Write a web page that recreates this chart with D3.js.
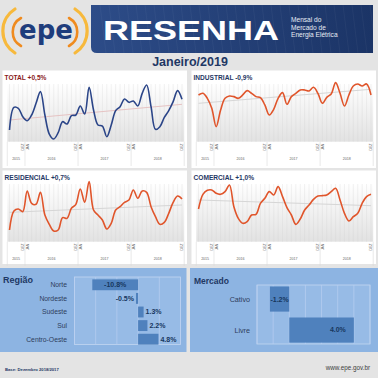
<!DOCTYPE html>
<html>
<head>
<meta charset="utf-8">
<script src="https://cdn.jsdelivr.net/npm/d3@7"></script>
<style>
  body { margin: 0; background: #e4e4e4; }
  svg { display: block; font-family: "Liberation Sans", Arial, sans-serif; }
</style>
</head>
<body>
<svg id="chart" width="378" height="378"></svg>
<script>
// monthly series, set/2015 .. dez/2018 (index values)
const months = d3.timeMonths(new Date(2015, 8, 1), new Date(2019, 0, 1));
const total = [40, 108, 105, 80, 68, 85, 120, 155, 85, 28, 13, 32, 65, 58, 83, 85, 112, 88, 168, 100,
  55, 52, 20, 55, 98, 110, 133, 123, 127, 112, 150, 175, 110, 42, 50, 78, 98, 125, 158, 132];
const industrial = [145, 150, 135, 105, 50, 100, 135, 142, 140, 135, 145, 158, 150, 140, 137, 115, 85, 102, 135, 152,
  117, 140, 150, 160, 160, 157, 168, 150, 120, 138, 148, 182, 150, 112, 145, 172, 178, 172, 178, 145];
const residencial = [40, 97, 103, 95, 157, 120, 117, 153, 85, 57, 37, 40, 77, 75, 105, 117, 163, 123, 185, 100,
  85, 70, 43, 60, 100, 110, 123, 130, 160, 135, 157, 153, 110, 80, 57, 63, 90, 123, 142, 133];
const comercial = [103, 147, 159, 160, 150, 147, 155, 175, 110, 75, 60, 65, 85, 87, 120, 135, 155, 145, 170, 140,
  107, 85, 57, 73, 100, 115, 132, 142, 143, 145, 155, 165, 130, 90, 67, 80, 90, 120, 140, 147];
const trendTotal = [70, 117];
const trendIndustrial = [120, 162];
const trendResidencial = [93, 115];
const trendComercial = [130, 113];
const panelTitles = ["TOTAL +0,5%", "INDUSTRIAL -0,9%", "RESIDENCIAL +0,7%", "COMERCIAL +1,0%"];
const yearLabels = ["2015", "2016", "2017", "2018"];

const regioes = ["Norte", "Nordeste", "Sudeste", "Sul", "Centro-Oeste"];
const regiaoVar = [-10.8, -0.5, 1.3, 2.2, 4.8];
const mercados = ["Cativo", "Livre"];
const mercadoVar = [-1.2, 4.0];

const svg = d3.select("#chart");
const defs = svg.append("defs");
const fmt = d3.formatLocale({ decimal: ".", thousands: ",", grouping: [3], currency: ["", ""], minus: "-" }).format(".1f");

// ---------- header ----------
const bannerGrad = defs.append("linearGradient").attr("id", "banner").attr("x1", 0).attr("x2", 1);
bannerGrad.append("stop").attr("offset", 0).attr("stop-color", "#2d4c88");
bannerGrad.append("stop").attr("offset", 1).attr("stop-color", "#1b3466");

svg.append("path")
  .attr("d", "M91,5 H373 V53 H97 Q91,53 91,47 Z")
  .attr("fill", "url(#banner)");
// faint grid texture on the banner
for (let gx = 100; gx < 372; gx += 9) {
  svg.append("line").attr("x1", gx).attr("x2", gx + 6).attr("y1", 5).attr("y2", 53)
    .attr("stroke", "#ffffff").attr("stroke-opacity", 0.04);
}
svg.append("text").attr("x", 103).attr("y", 40)
  .attr("fill", "#fff").attr("font-weight", "bold").attr("font-size", 28)
  .attr("textLength", 176).attr("lengthAdjust", "spacingAndGlyphs")
  .text("RESENHA");
["Mensal do", "Mercado de", "Energia Elétrica"].forEach((t, i) => {
  svg.append("text").attr("x", 291).attr("y", 22 + i * 7.6)
    .attr("fill", "#e8ecf4").attr("font-size", 6.6).text(t);
});

// epe logo
const logo = svg.append("g").attr("fill", "none").attr("stroke-linecap", "round");
logo.append("path").attr("d", "M15,9 A26,26 0 0 0 15,53").attr("stroke", "#f7b93c").attr("stroke-width", 3.2);
logo.append("path").attr("d", "M21,18 A16,16 0 0 0 21,46").attr("stroke", "#ef8b1f").attr("stroke-width", 2.6);
logo.append("path").attr("d", "M75,9 A26,26 0 0 1 75,53").attr("stroke", "#f7b93c").attr("stroke-width", 3.2);
logo.append("path").attr("d", "M69,18 A16,16 0 0 1 69,46").attr("stroke", "#ef8b1f").attr("stroke-width", 2.6);
svg.append("text").attr("x", 46).attr("y", 39).attr("text-anchor", "middle")
  .attr("font-family", "DejaVu Sans, sans-serif").attr("font-weight", "bold")
  .attr("font-size", 26).attr("fill", "#1f3d7c").text("epe");

svg.append("text").attr("x", 190).attr("y", 66).attr("text-anchor", "middle")
  .attr("font-weight", "bold").attr("font-size", 12.5).attr("fill", "#1f3864")
  .text("Janeiro/2019");

// ---------- line panels ----------
const plotGrad = defs.append("linearGradient").attr("id", "plotbg").attr("x1", 0).attr("x2", 0).attr("y1", 0).attr("y2", 1);
plotGrad.append("stop").attr("offset", 0).attr("stop-color", "#ffffff");
plotGrad.append("stop").attr("offset", 1).attr("stop-color", "#e2e2e2");

const panels = [
  { title: panelTitles[0], values: total, trend: trendTotal, col: 0, row: 0, color: "#2b4588", titleColor: "#8b1c1c", trendColor: "#e6c3c3" },
  { title: panelTitles[1], values: industrial, trend: trendIndustrial, col: 1, row: 0, color: "#e0552b", titleColor: "#1f3864", trendColor: "#d6d6d6" },
  { title: panelTitles[2], values: residencial, trend: trendResidencial, col: 0, row: 1, color: "#e0552b", titleColor: "#1f3864", trendColor: "#d6d6d6" },
  { title: panelTitles[3], values: comercial, trend: trendComercial, col: 1, row: 1, color: "#e0552b", titleColor: "#1f3864", trendColor: "#d6d6d6" }
];

panels.forEach(p => {
  const ox = p.col * 189, oy = p.row * 100;
  const g = svg.append("g");
  g.append("rect").attr("x", ox + 2.5).attr("y", oy + 70.5)
    .attr("width", 184.5).attr("height", p.row ? 93.5 : 97.5).attr("fill", "#fff");
  g.append("text").attr("x", ox + 4.5).attr("y", oy + 79.5)
    .attr("font-weight", "bold").attr("font-size", 6.6).attr("fill", p.titleColor).text(p.title);

  const x = d3.scaleLinear().domain([0, months.length - 1]).range([ox + 9.5, ox + 182]);
  const y = d3.scaleLinear().domain([5, 180]).range([oy + 141.7, oy + 83.3]);
  const top = oy + 84, bottom = oy + 141.7;

  g.append("rect").attr("x", x(-0.5)).attr("y", top)
    .attr("width", x(months.length - 0.5) - x(-0.5)).attr("height", bottom - top)
    .attr("fill", "url(#plotbg)");
  g.selectAll("line.stripe").data(months).join("line").attr("class", "stripe")
    .attr("x1", (d, i) => x(i)).attr("x2", (d, i) => x(i))
    .attr("y1", top).attr("y2", bottom)
    .attr("stroke", "#cfcfcf").attr("stroke-opacity", 0.55).attr("stroke-width", 0.5);

  // trend
  g.append("line")
    .attr("x1", x(0)).attr("x2", x(months.length - 1))
    .attr("y1", y(p.trend[0])).attr("y2", y(p.trend[1]))
    .attr("stroke", p.trendColor).attr("stroke-width", 1);

  g.append("path").datum(p.values)
    .attr("fill", "none").attr("stroke", p.color).attr("stroke-width", 1.6)
    .attr("d", d3.line().x((d, i) => x(i)).y(d => y(d)).curve(d3.curveCatmullRom.alpha(0.5)));

  // axis: DEZ/JAN at year turns, year names below
  const turns = months.map((m, i) => i).filter(i => months[i].getMonth() === 0);
  const seps = [-0.5, ...turns.map(i => i - 0.5), months.length - 0.5];
  g.selectAll("line.sep").data(seps).join("line").attr("class", "sep")
    .attr("x1", d => x(d)).attr("x2", d => x(d))
    .attr("y1", bottom).attr("y2", oy + 166)
    .attr("stroke", "#dadada").attr("stroke-width", 0.6);
  const ticks = [];
  turns.forEach(i => { ticks.push([i - 1, "DEZ"]); ticks.push([i, "JAN"]); });
  ticks.push([months.length - 1, "DEZ"]);
  g.selectAll("text.tick").data(ticks).join("text").attr("class", "tick")
    .attr("transform", d => `translate(${x(d[0]) + 1.4},${bottom + 2}) rotate(-90)`)
    .attr("text-anchor", "end").attr("font-size", 3.4).attr("fill", "#666").text(d => d[1]);
  g.selectAll("text.year").data(yearLabels).join("text").attr("class", "year")
    .attr("x", (d, k) => (x(seps[k]) + x(seps[k + 1])) / 2).attr("y", oy + 160)
    .attr("text-anchor", "middle").attr("font-size", 3.6).attr("fill", "#666").text(d => d);
});

// ---------- bar panels ----------
function barPanel(o) {
  const g = svg.append("g");
  g.append("rect").attr("x", o.box[0]).attr("y", 268).attr("width", o.box[1] - o.box[0]).attr("height", 84)
    .attr("fill", "#8db4e2");
  g.append("text").attr("x", o.box[0] + o.titleDx).attr("y", o.titleY)
    .attr("font-weight", "bold").attr("font-size", o.titleSize).attr("fill", "#1f3864").text(o.title);

  const x = d3.scaleLinear().domain(o.domain).range(o.xr);
  const y = d3.scaleBand().domain(o.cats).range(o.yr).paddingInner(o.padIn).paddingOuter(0.1);

  g.append("rect").attr("x", o.xr[0]).attr("y", o.grid[0]).attr("width", o.xr[1] - o.xr[0])
    .attr("height", o.grid[1] - o.grid[0]).attr("fill", "#97bbe6").attr("stroke", "#c3d6f0").attr("stroke-width", 0.8);
  g.selectAll("line.grid").data(x.ticks(o.nTicks)).join("line").attr("class", "grid")
    .attr("x1", d => x(d)).attr("x2", d => x(d)).attr("y1", o.grid[0]).attr("y2", o.grid[1])
    .attr("stroke", "#b9cff0").attr("stroke-width", 0.7);

  g.selectAll("rect.bar").data(o.vals).join("rect").attr("class", "bar")
    .attr("x", d => Math.min(x(0), x(d))).attr("width", d => Math.abs(x(d) - x(0)))
    .attr("y", (d, i) => y(o.cats[i])).attr("height", y.bandwidth())
    .attr("fill", "#4f81bd");

  g.selectAll("text.cat").data(o.cats).join("text").attr("class", "cat")
    .attr("x", o.catX).attr("y", d => y(d) + y.bandwidth() / 2).attr("dy", "0.35em")
    .attr("text-anchor", "end").attr("font-size", o.catSize).attr("fill", "#2e3d5c").text(d => d);

  g.selectAll("text.val").data(o.vals).join("text").attr("class", "val")
    .each(function (d, i) {
      const pos = o.labelPos(d, x);
      d3.select(this).attr("x", pos[0]).attr("text-anchor", pos[1])
        .attr("y", y(o.cats[i]) + y.bandwidth() / 2).attr("dy", "0.35em");
    })
    .attr("font-weight", "bold").attr("font-size", 7).attr("fill", "#17375e")
    .text(d => fmt(d) + "%");
}

barPanel({
  box: [0, 186.5], title: "Região", titleDx: 3, titleY: 283, titleSize: 9,
  cats: regioes, vals: regiaoVar, domain: [-15, 10], xr: [74.5, 180.5], yr: [278, 346], padIn: 0.2,
  grid: [277, 344.5], nTicks: 5, catX: 67, catSize: 6.8,
  labelPos: (d, x) => {
    const w = Math.abs(x(d) - x(0));
    if (w > 30) return [(x(d) + x(0)) / 2, "middle"];
    return d < 0 ? [x(d) - 2, "end"] : [x(d) + 2, "start"];
  }
});

barPanel({
  box: [190, 378], title: "Mercado", titleDx: 4, titleY: 284, titleSize: 8.5,
  cats: mercados, vals: mercadoVar, domain: [-2, 5], xr: [257, 370], yr: [283.4, 345.7], padIn: 0.19,
  grid: [285, 344], nTicks: 7, catX: 250, catSize: 7.2,
  labelPos: (d, x) => {
    const w = Math.abs(x(d) - x(0));
    if (w > 40) return [x(d) - 8, "end"];
    return [(x(d) + x(0)) / 2, "middle"];
  }
});

// ---------- footer ----------
svg.append("text").attr("x", 5).attr("y", 371).attr("font-size", 4.2).attr("font-weight", "bold")
  .attr("fill", "#1f3864").text("Base: Dezembro 2018/2017");
svg.append("text").attr("x", 370).attr("y", 370).attr("text-anchor", "end").attr("font-size", 6.3)
  .attr("fill", "#404040").text("www.epe.gov.br");
</script>
</body>
</html>
